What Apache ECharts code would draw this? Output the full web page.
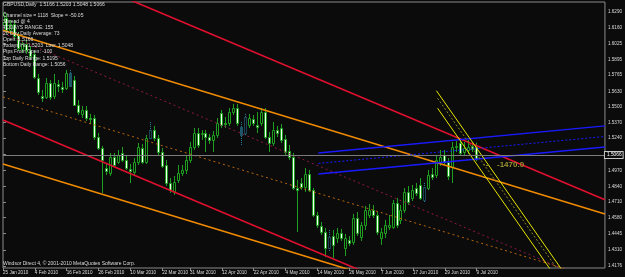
<!DOCTYPE html>
<html><head><meta charset="utf-8">
<script src="https://cdn.jsdelivr.net/npm/echarts@6/dist/echarts.min.js"></script>
<style>html,body{margin:0;padding:0;background:#0b0b0b}#c{width:625px;height:277px}</style>
</head><body><div id="c"></div>
<script>
// ---- data ----
const openP = [1.6207,1.6240,1.6140,1.6190,1.6099,1.5982,1.6024,1.5974,1.5941,1.5741,
1.5591,1.5583,1.5699,1.5591,1.5691,1.5666,1.5658,1.5783,1.5724,1.5516,
1.5442,1.5475,1.5408,1.5408,1.5250,1.5159,1.4992,1.4951,1.5084,1.5042,
1.5117,1.5059,1.4984,1.4959,1.5042,1.5159,1.5042,1.5242,1.5308,1.5242,
1.5125,1.5017,1.4867,1.4793,1.4892,1.4951,1.4976,1.5059,1.5167,1.5283,
1.5275,1.5283,1.5250,1.5225,1.5267,1.5450,1.5367,1.5367,1.5458,1.5491,
1.5333,1.5283,1.5350,1.5400,1.5350,1.5367,1.5458,1.5250,1.5200,1.5308,
1.5325,1.5234,1.5134,1.5084,1.4826,1.4867,1.4834,1.4942,1.4809,1.4601,
1.4510,1.4460,1.4327,1.4426,1.4410,1.4451,1.4327,1.4393,1.4377,1.4576,
1.4418,1.4518,1.4601,1.4643,1.4601,1.4410,1.4451,1.4501,1.4501,1.4701,
1.4560,1.4643,1.4793,1.4743,1.4826,1.4851,1.4726,1.4826,1.4942,1.4934,
1.5034,1.5100,1.5042,1.5001,1.5167,1.5200,1.5125,1.5142,1.5175,1.5166];
const highP = [1.6290,1.6274,1.6224,1.6224,1.6124,1.6057,1.6057,1.6007,1.5974,1.5774,
1.5641,1.5741,1.5724,1.5774,1.5724,1.5708,1.5808,1.5808,1.5758,1.5558,
1.5508,1.5508,1.5442,1.5433,1.5283,1.5175,1.5034,1.5117,1.5117,1.5142,
1.5167,1.5092,1.5026,1.5075,1.5200,1.5192,1.5267,1.5375,1.5342,1.5267,
1.5159,1.5059,1.4909,1.4926,1.5017,1.5017,1.5100,1.5209,1.5325,1.5325,
1.5308,1.5308,1.5275,1.5300,1.5408,1.5475,1.5417,1.5491,1.5525,1.5525,
1.5375,1.5442,1.5442,1.5433,1.5458,1.5491,1.5491,1.5292,1.5375,1.5342,
1.5358,1.5267,1.5184,1.5117,1.4892,1.4909,1.4992,1.4976,1.4826,1.4626,
1.4543,1.4493,1.4476,1.4476,1.4493,1.4485,1.4443,1.4426,1.4610,1.4626,
1.4543,1.4676,1.4693,1.4684,1.4626,1.4493,1.4560,1.4601,1.4726,1.4743,
1.4684,1.4826,1.4842,1.4851,1.4867,1.4909,1.4867,1.4976,1.4992,1.5100,
1.5142,1.5142,1.5075,1.5209,1.5217,1.5242,1.5209,1.5225,1.5209,1.5203];
const lowP = [1.6174,1.6115,1.6107,1.6057,1.5966,1.5949,1.5941,1.5891,1.5733,1.5600,
1.5541,1.5566,1.5558,1.5566,1.5625,1.5616,1.5641,1.5658,1.5508,1.5433,
1.5408,1.5383,1.5358,1.5225,1.5142,1.4784,1.4934,1.4926,1.5001,1.5026,
1.5042,1.4976,1.4867,1.4934,1.5017,1.5026,1.5026,1.5225,1.5217,1.5100,
1.4992,1.4842,1.4784,1.4768,1.4867,1.4926,1.4942,1.5034,1.5142,1.5159,
1.5225,1.5125,1.5192,1.5125,1.5242,1.5325,1.5325,1.5342,1.5433,1.5342,
1.5184,1.5258,1.5325,1.5342,1.5283,1.5342,1.5234,1.5125,1.5175,1.5250,
1.5200,1.5100,1.5059,1.4809,1.4460,1.4809,1.4793,1.4793,1.4585,1.4493,
1.4435,1.4252,1.4293,1.4243,1.4368,1.4385,1.4260,1.4343,1.4352,1.4426,
1.4385,1.4476,1.4576,1.4576,1.4435,1.4352,1.4410,1.4476,1.4485,1.4493,
1.4526,1.4618,1.4684,1.4718,1.4759,1.4726,1.4701,1.4809,1.4892,1.4909,
1.5009,1.5017,1.4892,1.4867,1.5125,1.5092,1.5100,1.5109,1.5125,1.5048];
const closeP = [1.6265,1.6140,1.6190,1.6090,1.5991,1.6024,1.5974,1.5924,1.5749,1.5625,
1.5575,1.5699,1.5583,1.5699,1.5674,1.5650,1.5783,1.5674,1.5516,1.5458,
1.5475,1.5408,1.5400,1.5250,1.5159,1.5059,1.4967,1.5084,1.5017,1.5100,
1.5059,1.4992,1.4967,1.5042,1.5167,1.5042,1.5242,1.5308,1.5242,1.5125,
1.5009,1.4867,1.4809,1.4876,1.4951,1.4976,1.5059,1.5167,1.5283,1.5184,
1.5283,1.5250,1.5225,1.5267,1.5367,1.5350,1.5358,1.5458,1.5491,1.5367,
1.5267,1.5417,1.5408,1.5367,1.5333,1.5458,1.5250,1.5200,1.5308,1.5283,
1.5225,1.5125,1.5084,1.4826,1.4809,1.4834,1.4942,1.4809,1.4601,1.4518,
1.4460,1.4327,1.4418,1.4352,1.4451,1.4410,1.4410,1.4368,1.4576,1.4451,
1.4518,1.4643,1.4643,1.4601,1.4460,1.4460,1.4518,1.4518,1.4701,1.4518,
1.4643,1.4793,1.4709,1.4809,1.4784,1.4743,1.4834,1.4934,1.4917,1.5059,
1.5084,1.5042,1.4926,1.5167,1.5175,1.5117,1.5159,1.5167,1.5150,1.5066];
const markedBars = [17,37,60,61,82,106];
const dateTickLabels = ['25 Jan 2010','4 Feb 2010','16 Feb 2010','26 Feb 2010','10 Mar 2010','22 Mar 2010','31 Mar 2010','12 Apr 2010','22 Apr 2010','4 May 2010','14 May 2010','26 May 2010','7 Jun 2010','17 Jun 2010','29 Jun 2010','9 Jul 2010'];
const priceTickLabels = ['1.6290','1.6160','1.6025','1.5895','1.5765','1.5630','1.5500','1.5370','1.5240','1.5105','1.4970','1.4840','1.4710','1.4580','1.4445','1.4310','1.4176'];
const lastPrice = 1.5066;
// trend lines: [bar1, price1, bar2, price2]
const redUpper   = [0, 1.6835, 151.25, 1.4728];
const redMid     = [0, 1.6113, 151.25, 1.4007];
const redLower   = [0, 1.5392, 151.25, 1.3284];
const orangeUpper= [0, 1.6138, 151.25, 1.4610];
const orangeMid  = [0, 1.5583, 151.25, 1.4052];
const orangeLower= [0, 1.5026, 151.25, 1.3497];
const blueUpper  = [79.25, 1.5117, 151.25, 1.5342];
const blueMid    = [79.25, 1.5030, 151.25, 1.5254];
const blueLower  = [79.25, 1.4942, 151.25, 1.5167];
const yellowA    = [108.9, 1.5635, 145.75, 1.3894];
const yellowMid  = [109.2, 1.5572, 144.7, 1.3894];
const yellowB    = [109.2, 1.5489, 142.9, 1.3894];
const infoLines = ['GBPUSD,Daily  1.5166 1.5203 1.5048 1.5066','Channel size = 1118  Slope = -50.05','Spread @ 4','TODAYS RANGE: 155','20 Day Daily Average: 73','Open: 1.5166','Todays Hi: 1.5203  Low: 1.5048','Pips From Open: -100','Top Daily Range: 1.5195','Bottom Daily Range: 1.5056'];
const footer = 'Windsor Direct 4, \u00a9 2001-2010 MetaQuotes Software Corp.';
const levelText = '-1470.0';

// ---- build ----
const months=['Jan','Feb','Mar','Apr','May','Jun','Jul','Aug'];
const dates=[]; const d=new Date(Date.UTC(2010,0,25));
while(dates.length<openP.length){const wd=d.getUTCDay(); if(wd!==0&&wd!==6) dates.push(d.getUTCDate()+' '+months[d.getUTCMonth()]+' 2010'); d.setUTCDate(d.getUTCDate()+1);}
const dateTickIdx = dateTickLabels.map(s=>dates.indexOf(s));
const priceTicks = priceTickLabels.map(parseFloat);
const BG='#0b0b0b', GREEN='#1f9f1f', TEAL='#2a7e9c', AXIS='#8c8c8c', TXT='#dcdcdc';
const candleData = openP.map((o,i)=>[i,o,highP[i],lowP[i],closeP[i],markedBars.includes(i)?1:0]);

function trend(seg,color,width,type){
  return {type:'line',data:[[seg[0],seg[1]],[seg[2],seg[3]]],symbol:'none',silent:true,clip:true,z:4,
    lineStyle:{color:color,width:width,type:type||'solid'}};
}
const chart = echarts.init(document.getElementById('c'),null,{renderer:'canvas'});
const font = '"Liberation Sans", Arial, sans-serif';
const graphics = infoLines.map((t,k)=>({type:'text',z:100,style:{text:t,x:3,y:5+k*6.15+(k>0?4:0),fill:TXT,fontSize:5,fontFamily:font,verticalAlign:'middle'}}));
graphics.push({type:'text',z:100,style:{text:footer,x:3,y:263.5,fill:TXT,fontSize:5,fontFamily:font,verticalAlign:'middle'}});
graphics.push({type:'text',z:100,style:{text:'\u00b7-',x:483,y:164.5,fill:'#9c9530',fontSize:8,fontWeight:'bold',fontFamily:font,verticalAlign:'middle'}});
graphics.push({type:'text',z:100,style:{text:levelText,x:497,y:165,fill:'#9c9530',fontSize:8,fontWeight:'bold',fontFamily:font,verticalAlign:'middle'}});

chart.setOption({
  animation:false,
  backgroundColor:BG,
  grid:{left:1,right:19,top:2,bottom:9,show:true,borderColor:AXIS,borderWidth:1,backgroundColor:BG},
  xAxis:{type:'value',min:0,max:151.25,
    axisLine:{show:false},splitLine:{show:false},
    axisTick:{show:true,customValues:dateTickIdx,length:3,lineStyle:{color:AXIS}},
    axisLabel:{show:true,customValues:dateTickIdx,formatter:v=>dates[Math.round(v)],color:TXT,fontSize:4.6,fontFamily:font,align:'left',margin:2,showMinLabel:true,showMaxLabel:true}},
  yAxis:{type:'value',position:'right',min:1.4160,max:1.6373,
    axisLine:{show:false},splitLine:{show:false},
    axisTick:{show:true,customValues:priceTicks,length:3,lineStyle:{color:AXIS}},
    axisLabel:{show:true,customValues:priceTicks,formatter:v=>v.toFixed(4),color:TXT,fontSize:4.6,fontFamily:font,margin:3,showMinLabel:true,showMaxLabel:true}},
  graphic:graphics,
  series:[
    {type:'custom',data:candleData,clip:true,z:2,encode:{x:0,y:[1,2,3,4]},
      renderItem:function(params,api){
        const i=api.value(0),o=api.value(1),h=api.value(2),l=api.value(3),c=api.value(4),m=api.value(5)===1;
        const pO=api.coord([i,o]),pC=api.coord([i,c]),pH=api.coord([i,h]),pL=api.coord([i,l]);
        const px=Math.floor(pO[0]+0.01);
        const col=m?TEAL:GREEN;
        const top=Math.round(Math.min(pO[1],pC[1])), bot=Math.round(Math.max(pO[1],pC[1]));
        const bear=c<o;
        return {type:'group',children:[
          {type:'line',shape:{x1:px+0.5,y1:pH[1],x2:px+0.5,y2:pL[1]},style:{stroke:col,lineWidth:1,lineDash:m?[1,1]:null}},
          {type:'rect',shape:{x:px-0.5,y:top+0.5,width:2,height:Math.max(1,bot-top)},style:{fill:bear?(m?'#1d5566':'#f4fff4'):BG,stroke:col,lineWidth:1,lineDash:m?[1,1]:null}}
        ]};
      }},
    trend(redMid,'#8e1848',1,[2,3]),
    trend(orangeMid,'#b8660e',1,[2,3]),
    trend(redUpper,'#e0102e',1.6),
    trend(redLower,'#e0102e',1.6),
    trend(orangeUpper,'#f08a00',1.6),
    trend(orangeLower,'#f08a00',1.6),
    trend(blueUpper,'#1a1aff',1.4),
    trend(blueMid,'#1a1aff',1,[2,2]),
    trend(blueLower,'#1a1aff',1.4),
    trend(yellowA,'#e6e600',1),
    trend(yellowMid,'#8c8a22',1,[2,2]),
    trend(yellowB,'#e6e600',1),
    {type:'line',data:[],symbol:'none',silent:true,z:3,
      markLine:{silent:true,symbol:'none',animation:false,
        lineStyle:{color:'#7c7c7c',width:1,type:'solid'},
        label:{show:true,position:'end',distance:0,formatter:lastPrice.toFixed(4),color:'#ffffff',fontSize:4.8,fontFamily:font,
          backgroundColor:BG,borderColor:'#c8c8c8',borderWidth:1,padding:[1,1,0,2]},
        data:[{yAxis:lastPrice}]}}
  ]
});
</script></body></html>
